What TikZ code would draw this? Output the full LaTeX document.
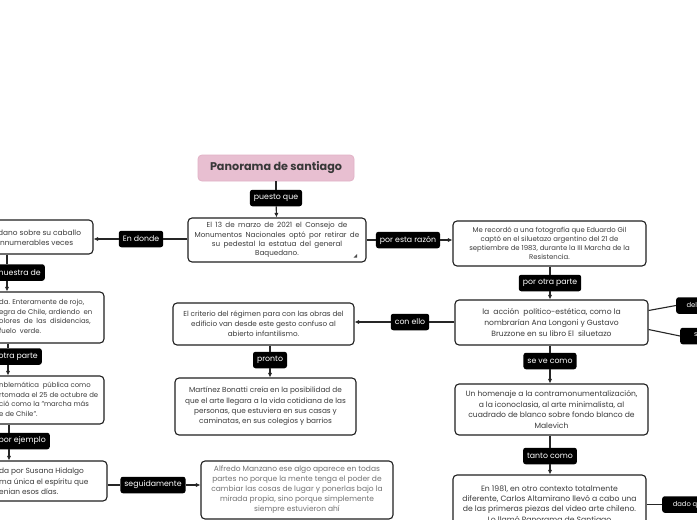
\documentclass[tikz,border=0pt]{standalone}
\usepackage{fontspec}
\setmainfont{Poppins}
\usetikzlibrary{arrows.meta}
\definecolor{pinkfill}{HTML}{E8BFD1}
\definecolor{pinkdraw}{HTML}{E2B2C6}
\definecolor{txt}{HTML}{3A3A3A}
\newcommand{\widesp}{\spaceskip=3.4pt plus 1pt minus 0pt\relax}
\tikzset{
  box/.style={draw=black!88, line width=1.1pt, rounded corners=4pt, fill=white, text=txt, align=center, inner sep=0pt},
  lab/.style={fill=black, text=white, rounded corners=2.5pt, font=\fontsize{7.8}{8}\selectfont, inner xsep=4pt, inner ysep=0pt, minimum height=16.5pt},
  rlab/.style={lab, anchor=west, align=left, inner xsep=3pt, font=\fontsize{6.8}{8}\selectfont},
  con/.style={draw=black!85, line width=1.1pt},
  arr/.style={con, -{Latex[length=4.5pt,width=4.2pt]}},
  fs/.style 2 args={font=\fontsize{#1}{#2}\selectfont},
  ltxt/.style={text=txt, align=left, inner sep=0pt, anchor=west}
}
\begin{document}
\begin{tikzpicture}[x=1pt,y=-1pt]
\clip (0,0) rectangle (697,520);
\fill[white] (0,0) rectangle (697,520);

% centre
\node[box, fill=pinkfill, draw=pinkdraw, line width=0.8pt, minimum width=156pt, minimum height=26pt, text=black!78, font=\bfseries\fontsize{11.2}{12}\selectfont] (title) at (276,168) {Panorama de santiago};
\node[lab] (puesto) at (276,198) {puesto que};
\node[box, minimum width=178pt, minimum height=44pt, font=\fontsize{7.2}{9.3}\selectfont\widesp] (main) at (277,240) {El 13 de marzo de 2021 el Consejo de\\Monumentos Nacionales optó por retirar de\\su pedestal la estatua del general\\Baquedano.};
\fill[black!70] (353.5,257.5) -- (357,257.5) -- (357,254) -- cycle;
\draw[con] (title) -- (puesto);
\draw[arr] (puesto) -- (main);

% left column
\coordinate (v1) at (7,0);
\coordinate (v2) at (8,0);
\coordinate (v3) at (9,0);
\node[lab] (endonde) at (141,239) {En donde};
\node[box, minimum width=120pt, minimum height=34pt] (b1) at (33,237) {};
\node[ltxt, fs={7.4}{10}] (b1t) at (-2,237.5) {dano sobre su caballo\\innumerables veces};
\draw[con] (main.west |- endonde) -- (endonde);
\draw[arr] (endonde.west) -- (endonde.west -| b1.east);

\node[lab, anchor=east] (mues) at (45,272.5) {muestra de};
\node[box, minimum width=130pt, minimum height=51pt] (b2) at (39,317.5) {};
\node[ltxt, fs={6.9}{9.6}] (b2t) at (-1,316.5) {da. Enteramente de rojo,\\egra de Chile, ardiendo \ en\\olores \ de \ las \ disidencias,\\fuelo \ verde.};
\draw[con] (b1.south -| v1) -- (mues.north -| v1);
\draw[arr] (mues.south -| v1) -- (b2.north -| v1);

\node[lab, anchor=east] (otra) at (42,356.5) {otra parte};
\node[box, minimum width=130pt, minimum height=48pt] (b3) at (39,400) {};
\node[ltxt, fs={6.9}{9.5}] (b3t) at (-1,399.5) {nblemática \ pública como\\rtomada el 25 de octubre de\\ció como la "marcha más\\e de Chile".};
\draw[con] (b2.south -| v2) -- (otra.north -| v2);
\draw[arr] (otra.south -| v2) -- (b3.north -| v2);

\node[lab, anchor=east] (ejem) at (50,441) {por ejemplo};
\node[box, minimum width=133pt, minimum height=40pt] (b4) at (40.5,481) {};
\node[ltxt, fs={7.4}{10.3}] (b4t) at (-1,481.5) {da por Susana Hidalgo\\ma única el espíritu que\\enian esos días.};
\draw[con] (b3.south -| v3) -- (ejem.north -| v3);
\draw[arr] (ejem.south -| v3) -- (b4.north -| v3);

\node[lab] (segui) at (153,485) {seguidamente};
\node[box, minimum width=192pt, minimum height=58pt, fs={7.5}{10}, text=black!55] (b5) at (297,490) {Alfredo Manzano ese algo aparece en todas\\partes no porque la mente tenga el poder de\\cambiar las cosas de lugar y ponerlas bajo la\\mirada propia, sino porque simplemente\\siempre estuvieron ahí};
\draw[con] (b4.east |- segui) -- (segui);
\draw[arr] (segui.east) -- (segui.east -| b5.west);

% middle column
\node[lab] (conello) at (410,322) {con ello};
\node[box, minimum width=181pt, minimum height=42pt, fs={7.2}{10}] (c1) at (263.5,324) {El criterio del régimen para con las obras del\\edificio van desde este gesto confuso al\\abierto infantilismo.};
\node[lab] (pronto) at (270,360) {pronto};
\node[box, minimum width=181pt, minimum height=57pt, fs={7.3}{10.3}] (c2) at (265.5,406.5) {Martínez Bonatti creía en la posibilidad de\\que el arte llegara a la vida cotidiana de las\\personas, que estuviera en sus casas y\\caminatas, en sus colegios y barrios};
\draw[con] (c1.south -| pronto) -- (pronto);
\draw[arr] (pronto) -- (c2.north -| pronto);

% right column
\node[lab] (razon) at (408,240) {por esta razón};
\node[box, minimum width=193pt, minimum height=45pt, fs={6.9}{9.2}] (r1) at (549.5,243.5) {Me recordó a una fotografía que Eduardo Gil\\captó en el siluetazo argentino del 21 de\\septiembre de 1983, durante la III Marcha de la\\Resistencia.};
\draw[con] (main.east |- razon) -- (razon);
\draw[arr] (razon.east) -- (razon.east -| r1.west);

\node[lab] (otrap) at (550,283) {por otra parte};
\node[box, minimum width=193pt, minimum height=45pt, fs={7.6}{10.6}] (r2) at (551.5,322.5) {la \ acción \ político-estética, como la\\nombrarían Ana Longoni y Gustavo\\Bruzzone en su libro El \ siluetazo};
\draw[con] (r1.south -| otrap) -- (otrap);
\draw[arr] (otrap) -- (r2.north -| otrap);
\draw[con] (r2.west |- conello) -- (conello);
\draw[arr] (conello.west) -- (conello.west -| c1.east);

\node[rlab, minimum width=40pt] (delm) at (676,305.5) {del m\hfill};
\node[rlab, minimum width=40pt] (seg) at (680,336) {seg\hfill};
\draw[con] ([yshift=12pt]r2.east) -- (delm.west);
\draw[con] ([yshift=-7pt]r2.east) -- (seg.west);

\node[lab] (seve) at (550,361) {se ve como};
\node[box, minimum width=193pt, minimum height=51pt, fs={7.6}{10.4}] (r3) at (551.5,409.5) {Un homenaje a la contramonumentalización,\\a la iconoclasia, al arte minimalista, al\\cuadrado de blanco sobre fondo blanco de\\Malevich};
\draw[con] (r2.south -| seve) -- (seve);
\draw[arr] (seve) -- (r3.north -| seve);

\node[lab] (tanto) at (550,456) {tanto como};
\node[box, minimum width=193pt, minimum height=60pt, fs={7.7}{10.3}] (r4) at (549.5,505) {En 1981, en otro contexto totalmente\\diferente, Carlos Altamirano llevó a cabo una\\de las primeras piezas del video arte chileno.\\Lo llamó Panorama de Santiago};
\draw[con] (r3.south -| tanto) -- (tanto);
\draw[arr] (tanto) -- (r4.north -| tanto);

\node[rlab, minimum width=50pt] (dado) at (662,504.5) {dado qu\hfill};
\draw[con] (r4.east |- dado) -- (dado.west);
\end{tikzpicture}
\end{document}
